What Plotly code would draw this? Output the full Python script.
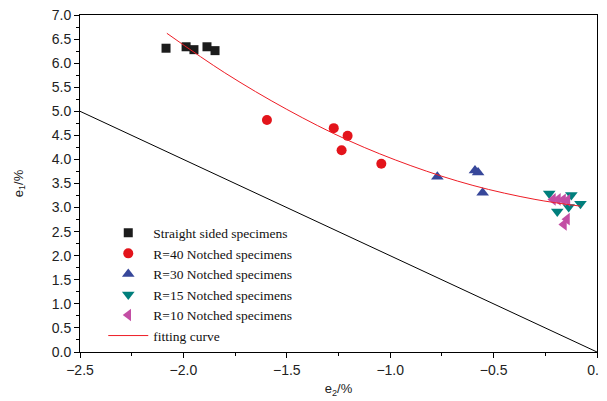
import plotly.graph_objects as go

# Data
straight_x = [-2.084, -1.987, -1.949, -1.886, -1.847]
straight_y = [6.31, 6.34, 6.28, 6.34, 6.26]

r40_x = [-1.596, -1.273, -1.206, -1.235, -1.043]
r40_y = [4.82, 4.65, 4.49, 4.19, 3.91]

r30_x = [-0.772, -0.590, -0.575, -0.553]
r30_y = [3.64, 3.77, 3.73, 3.31]

r15_x = [-0.231, -0.124, -0.192, -0.137, -0.080]
r15_y = [3.29, 3.26, 2.92, 3.01, 3.08]

r10_x = [-0.213, -0.189, -0.164, -0.143, -0.145, -0.160]
r10_y = [3.17, 3.17, 3.16, 3.15, 2.76, 2.65]

fit_x = [-2.08, -1.8, -1.5, -1.2, -0.9, -0.6, -0.3, -0.08]
fit_y = [6.62, 5.80, 5.04, 4.39, 3.87, 3.46, 3.17, 3.03]

ref_x = [-2.5, 0.0]
ref_y = [5.0, 0.0]

fig = go.Figure()

fig.add_trace(go.Scatter(x=ref_x, y=ref_y, mode="lines",
                         line=dict(color="black", width=1), showlegend=False))
fig.add_trace(go.Scatter(x=straight_x, y=straight_y, mode="markers",
                         name="Straight sided specimens",
                         marker=dict(symbol="square", size=9, color="#1c1c1c")))
fig.add_trace(go.Scatter(x=r40_x, y=r40_y, mode="markers",
                         name="R=40 Notched specimens",
                         marker=dict(symbol="circle", size=10, color="#e3141b")))
fig.add_trace(go.Scatter(x=r30_x, y=r30_y, mode="markers",
                         name="R=30 Notched specimens",
                         marker=dict(symbol="triangle-up", size=11, color="#37479a")))
fig.add_trace(go.Scatter(x=r15_x, y=r15_y, mode="markers",
                         name="R=15 Notched specimens",
                         marker=dict(symbol="triangle-down", size=11, color="#007f7c")))
fig.add_trace(go.Scatter(x=r10_x, y=r10_y, mode="markers",
                         name="R=10 Notched specimens",
                         marker=dict(symbol="triangle-left", size=11, color="#c34ea4")))
fig.add_trace(go.Scatter(x=fit_x, y=fit_y, mode="lines", name="fitting curve",
                         line=dict(color="#ee1c25", width=1, shape="spline")))

axis_common = dict(
    showline=True, linecolor="black", linewidth=1, mirror=True,
    ticks="outside", ticklen=5, tickwidth=1, tickcolor="black",
    showgrid=False, zeroline=False, automargin=False,
    ticklabeloverflow="allow",
    tickfont=dict(family="Liberation Sans, Arial", size=14, color="#222"),
    minor=dict(ticks="outside", ticklen=3, tickwidth=1, tickcolor="black", dtick=0.25),
)

fig.update_xaxes(range=[-2.5, 0.0], dtick=0.5, tickformat=".1f",
                 title=dict(text="e<sub>2</sub>/%", standoff=7,
                            font=dict(family="Liberation Sans, Arial", size=13, color="#222")),
                 **axis_common)
fig.update_yaxes(range=[0, 7.0], dtick=0.5, tickformat=".1f",
                 title=dict(text="e<sub>1</sub>/%", standoff=25,
                            font=dict(family="Liberation Sans, Arial", size=13, color="#222")),
                 **axis_common)

fig.update_layout(
    width=599, height=393,
    margin=dict(l=72, r=10, t=7, b=49),
    plot_bgcolor="white", paper_bgcolor="white",
    legend=dict(x=0.045, y=0.399, xanchor="left", yanchor="top",
                bgcolor="rgba(0,0,0,0)", itemwidth=40, tracegroupgap=0,
                font=dict(family="Liberation Serif, Times New Roman", size=13.5, color="#111")),
)

fig.write_html("out.html")
